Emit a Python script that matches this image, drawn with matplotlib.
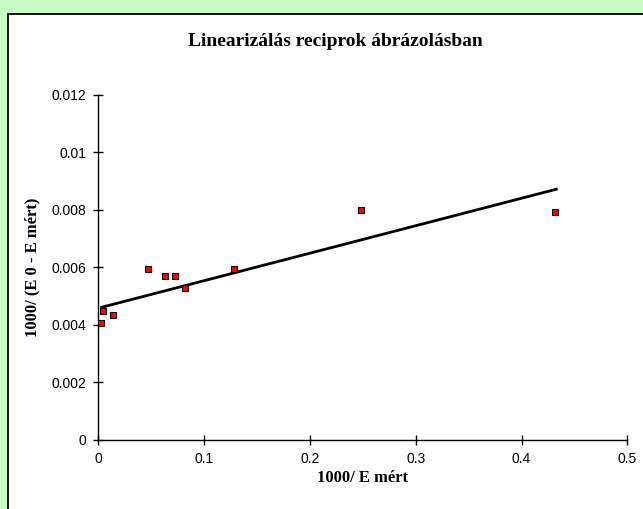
import matplotlib
matplotlib.use("Agg")
import matplotlib.pyplot as plt
from matplotlib.patches import Rectangle

# reciprocal values
x_recip = [0.0028, 0.0042, 0.0142, 0.0473, 0.0630, 0.0725, 0.0817, 0.1280, 0.2480, 0.4320]
y_recip = [0.00405, 0.00447, 0.00435, 0.00593, 0.00570, 0.00570, 0.00528, 0.00593, 0.00800, 0.00793]

# trendline end points as drawn in the chart
trend_x = [0.0032, 0.4329]
trend_y = [0.00461, 0.00872]

title = "Linearizálás reciprok ábrázolásban"
xlabel = "1000/ E mért"
ylabel = "1000/ (E 0 - E mért)"
xticks = [0, 0.1, 0.2, 0.3, 0.4, 0.5]
yticks = [0, 0.002, 0.004, 0.006, 0.008, 0.01, 0.012]

plt.rcParams['font.family'] = ['Liberation Sans', 'DejaVu Sans']

fig = plt.figure(figsize=(6.43, 5.09), dpi=100)
fig.patch.set_facecolor('#c8ffc8')

# white chart area with black border (runs off right/bottom edge)
top = 1 - 13.7/509
fig.patches.append(Rectangle((8/643, -0.05), 1.1, top + 0.05,
                             transform=fig.transFigure, facecolor='white',
                             edgecolor='black', linewidth=1.3, zorder=-1))

ax = fig.add_axes([98.3/643, 69.3/509, 529/643, 344.7/509])
ax.set_zorder(1)
ax.set_facecolor('white')

ax.plot(trend_x, trend_y, color='black', linewidth=2, zorder=2)
ax.plot(x_recip, y_recip, linestyle='none', marker='s', markersize=5,
        markerfacecolor='#ff0000', markeredgecolor='black', markeredgewidth=0.8, zorder=3)

ax.set_xlim(0, 0.5)
ax.set_ylim(0, 0.012)
ax.set_xticks(xticks)
ax.set_yticks(yticks)
ax.set_xticklabels([f"{v:g}" for v in xticks])
ax.set_yticklabels([f"{v:g}" for v in yticks])
ax.tick_params(direction='inout', length=7, width=1, labelsize=10, pad=5)
for s in ['top', 'right']:
    ax.spines[s].set_visible(False)
for s in ['left', 'bottom']:
    ax.spines[s].set_linewidth(1)

ax.set_xlabel(xlabel, family='Liberation Serif', fontweight='bold', fontsize=12, labelpad=3)
ax.set_ylabel(ylabel, family='Liberation Serif', fontweight='bold', fontsize=12, labelpad=8)
fig.text(335/643, 1 - 41/509, title, family='Liberation Serif', fontweight='bold',
         fontsize=14, ha='center', va='center')

fig.savefig("out.png", dpi=100)
